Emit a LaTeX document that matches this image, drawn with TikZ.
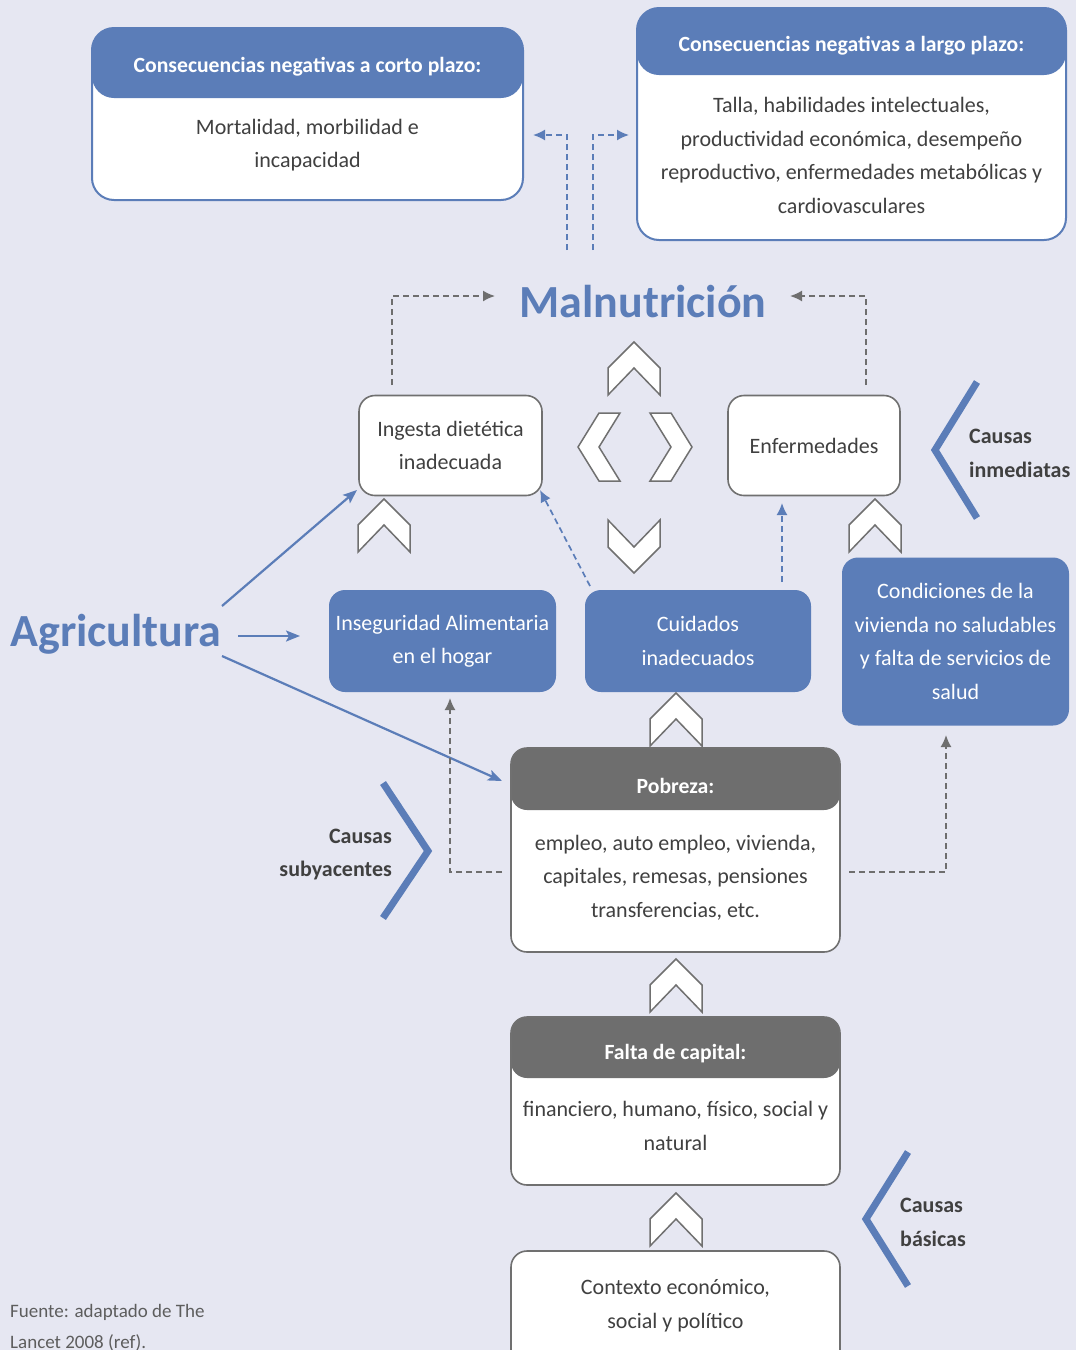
\documentclass[tikz,border=0pt]{standalone}
\usepackage{fontspec}
\setmainfont{Carlito}
\usetikzlibrary{arrows.meta}
\definecolor{bg}{HTML}{E6E7F2}
\definecolor{mblue}{HTML}{5B7DB8}
\definecolor{hgray}{HTML}{6E6E6E}
\definecolor{edge}{HTML}{707070}
\definecolor{ink}{HTML}{404040}
\begin{document}
\begin{tikzpicture}[x=1pt,y=-1pt,
  txt/.style={text=ink, font=\fontsize{22}{33.5}\selectfont, align=center, inner sep=0pt},
  hdtxt/.style={text=white, font=\bfseries\fontsize{21.7}{30}\selectfont, inner sep=0pt},
  sidetxt/.style={text=ink, font=\bfseries\fontsize{22}{33.5}\selectfont, inner sep=0pt},
  wbox/.style={draw=edge, line width=1.6pt, fill=white, rounded corners=16pt, inner sep=0pt},
  bbox/.style={fill=mblue, rounded corners=16pt, inner sep=0pt, text=white, align=center,
    font=\fontsize{22}{33.5}\selectfont},
  topbox/.style={draw=mblue, line width=2pt, fill=white, rounded corners=22pt, inner sep=0pt},
  hdr/.style 2 args={path picture={\fill[#1] (path picture bounding box.north west)
    rectangle ([yshift=-#2]path picture bounding box.north east);}},
  chevron/.style={draw=edge, fill=white, line width=1.5pt, line join=miter},
  bracket/.style={draw=mblue, line width=7pt, line join=miter},
  bluearrow/.style={draw=mblue, line width=2.2pt, -{Stealth[length=14pt,width=11pt,inset=3pt]}},
  bluedash/.style={draw=mblue, line width=1.7pt, dash pattern=on 6pt off 4pt, -{Latex[length=12pt,width=11pt]}},
  graydash/.style={draw=hgray, line width=1.7pt, dash pattern=on 6pt off 4pt, -{Latex[length=12pt,width=11pt]}},
  chev/.pic={\path[chevron] (-26,0) -- (-26,-27) -- (0,-53) -- (26,-27) -- (26,0) -- (0,-27) -- cycle;},
  chevs/.pic={\path[chevron] (-34,0) -- (-34,-21) -- (0,-42) -- (34,-21) -- (34,0) -- (0,-21) -- cycle;},
]
\clip (0,0) rectangle (1076,1350);
\fill[bg] (0,0) rectangle (1076,1350);

% consequences
\node[topbox, hdr={mblue}{70pt}, minimum width=431pt, minimum height=172pt] (shortterm) at (307.5,114) {};
\node[hdtxt] (shorttitle) at (307.5,67) {Consecuencias negativas a corto plazo:};
\node[txt] (shortbody) at (307.5,145) {Mortalidad, morbilidad e\\incapacidad};

\node[topbox, hdr={mblue}{67pt}, minimum width=429pt, minimum height=232pt] (longterm) at (851.5,124) {};
\node[hdtxt] (longtitle) at (851.5,46) {Consecuencias negativas a largo plazo:};
\node[txt] (longbody) at (851.5,155.5) {Talla, habilidades intelectuales,\\productividad económica, desempeño\\reproductivo, enfermedades metabólicas y\\cardiovasculares};

% malnutrition and its dashed outputs
\node[text=mblue, font=\bfseries\fontsize{46}{50}\selectfont, inner sep=0pt] (maln) at (643,302) {Malnutrición};
\coordinate (outL) at (567,250);
\coordinate (outR) at (593,250);
\coordinate (tipL) at (533,135);
\coordinate (tipR) at (629,135);
\draw[bluedash] (outL) |- (tipL);
\draw[bluedash] (outR) |- (tipR);

% immediate causes
\node[wbox, minimum width=183pt, minimum height=100pt, txt] (ing) at (450.5,445.5) {Ingesta dietética\\inadecuada};
\node[wbox, minimum width=172pt, minimum height=100pt, txt] (enf) at (814,445.5) {Enfermedades};
\coordinate (ingup) at (392,385);
\coordinate (enfup) at (866,385);
\coordinate (malL) at (495,296);
\coordinate (malR) at (790,296);
\draw[graydash] (ingup) |- (malL);
\draw[graydash] (enfup) |- (malR);

% central chevrons
\pic at (634,395) {chev};
\pic[rotate=180] at (634,520) {chev};
\pic[rotate=90] at (620,447) {chevs};
\pic[rotate=-90] at (650,447) {chevs};
\pic at (384,552) {chev};
\pic at (875,552) {chev};

% underlying causes (blue)
\node[bbox, minimum width=227pt, minimum height=102pt] (inseg) at (442.5,641) {Inseguridad Alimentaria\\en el hogar};
\node[bbox, minimum width=226pt, minimum height=102pt] (cuid) at (698,641) {Cuidados\\inadecuados};
\node[bbox, minimum width=227pt, minimum height=168pt] (viv) at (955.5,641.5) {Condiciones de la\\vivienda no saludables\\y falta de servicios de\\salud};

\coordinate (cuidA) at (590,586);
\coordinate (ingA) at (540,490);
\coordinate (cuidB) at (782,582);
\coordinate (enfB) at (782,503);
\draw[bluedash] (cuidA) -- (ingA);
\draw[bluedash] (cuidB) -- (enfB);

% agriculture
\node[text=mblue, font=\bfseries\fontsize{46}{50}\selectfont, inner sep=0pt] (agr) at (116,634) {Agricultura};
\coordinate (agrA) at (222,606);
\coordinate (agrB) at (238,636);
\coordinate (agrC) at (222,656);
\coordinate (ingB) at (357,490);
\coordinate (insegA) at (300,636);
\coordinate (pobA) at (502,781);
\draw[bluearrow] (agrA) -- (ingB);
\draw[bluearrow] (agrB) -- (insegA);
\draw[bluearrow] (agrC) -- (pobA);

% poverty
\pic at (676,746) {chev};
\node[wbox, hdr={hgray}{62pt}, minimum width=329pt, minimum height=204pt] (pob) at (675.5,850) {};
\node[hdtxt] (pobtitle) at (675.5,786) {Pobreza:};
\node[txt] (pobbody) at (675.5,877.5) {empleo, auto empleo, vivienda,\\capitales, remesas, pensiones\\transferencias, etc.};
\coordinate (pobL) at (502,872);
\coordinate (pobR) at (849,872);
\coordinate (insegB) at (450,698);
\coordinate (vivB) at (946,735);
\draw[graydash] (pobL) -| (insegB);
\draw[graydash] (pobR) -| (vivB);

% capital
\pic at (676,1012) {chev};
\node[wbox, hdr={hgray}{61pt}, minimum width=329pt, minimum height=168pt] (cap) at (675.5,1101) {};
\node[hdtxt] (captitle) at (675.5,1054) {Falta de capital:};
\node[txt] (capbody) at (675.5,1126) {financiero, humano, físico, social y\\natural};

% context
\pic at (676,1246) {chev};
\node[wbox, minimum width=329pt, minimum height=121pt] (ctx) at (675.5,1311.5) {};
\node[txt] (ctxbody) at (675.5,1305.5) {Contexto económico,\\social y político};

% level brackets
\draw[bracket] (977,382) -- (935,450) -- (977,518);
\node[sidetxt, anchor=west, align=left] (inmed) at (969,453.5) {Causas\\inmediatas};
\draw[bracket] (383,783) -- (428,851) -- (383,918);
\node[sidetxt, anchor=east, align=right] (subyac) at (392,854.5) {Causas\\subyacentes};
\draw[bracket] (908,1152) -- (866,1219) -- (908,1286);
\node[sidetxt, anchor=west, align=left] (basic) at (900,1222.5) {Causas\\básicas};

% source
\node[text=ink!85, font=\fontsize{19}{31}\selectfont, anchor=north west, align=left, inner sep=0pt] (src) at (10,1304) {Fuente: adaptado de The\\Lancet 2008 (ref).};
\end{tikzpicture}
\end{document}
